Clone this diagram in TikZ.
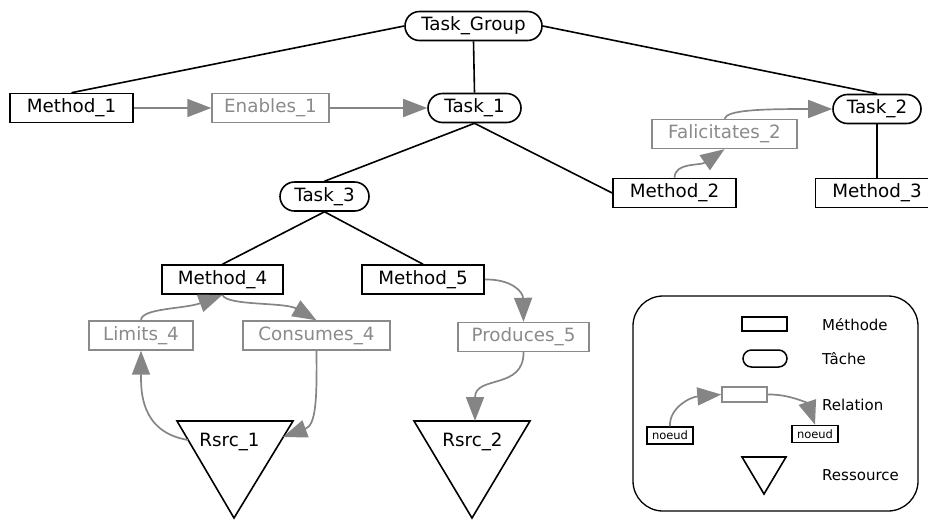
\documentclass[tikz,border=0pt]{standalone}
\usepackage{fontspec}
\setmainfont{DejaVu Sans}
\usetikzlibrary{arrows.meta,shapes.misc}
\definecolor{relgray}{HTML}{8A8A8A}
\definecolor{arrgray}{HTML}{858585}
\begin{document}
\begin{tikzpicture}[x=1pt,y=-1pt,
  bigfont/.style={font=\fontsize{18.3}{21}\selectfont},
  meth/.style={draw, line width=1.6pt, minimum width=123pt, minimum height=29pt, inner sep=0pt, bigfont},
  task/.style={draw, rounded rectangle, line width=1.6pt, minimum height=29pt, inner sep=0pt, bigfont},
  rel/.style={draw=relgray, text=relgray, line width=1.4pt, minimum height=29pt, inner sep=0pt, bigfont},
  link/.style={line width=1.6pt},
  rarrow/.style={draw=arrgray, line width=1.7pt, -{Triangle[length=24pt,width=18pt]}},
  tri/.style={line width=1.6pt, line join=miter},
  legtext/.style={anchor=west, inner sep=0pt, font=\fontsize{15}{18}\selectfont},
  smallbox/.style={draw, line width=1.5pt, minimum width=46pt, minimum height=17pt, inner sep=0pt, font=\fontsize{11.5}{13}\selectfont}
]
\useasboundingbox (0,0) rectangle (928,520);

% task nodes
\node[task, minimum width=137pt] (tg) at (473.5,26) {Task\_Group};
\node[task, minimum width=93pt] (t1) at (474.5,108) {Task\_1};
\node[task, minimum width=88pt] (t2) at (877,109) {Task\_2};
\node[task, minimum width=89pt] (t3) at (324.5,196.5) {Task\_3};

% method nodes
\node[meth] (m1) at (71.5,108) {Method\_1};
\node[meth] (m2) at (674.5,193) {Method\_2};
\node[meth] (m3) at (877,193) {Method\_3};
\node[meth, minimum width=121pt] (m4) at (222.5,279.5) {Method\_4};
\node[meth, minimum width=122pt] (m5) at (423,279.5) {Method\_5};

% relation nodes
\node[rel, minimum width=117pt] (e1) at (270.5,108) {Enables\_1};
\node[rel, minimum width=145pt] (f2) at (724.5,134) {Falicitates\_2};
\node[rel, minimum width=104pt] (l4) at (141,335.5) {Limits\_4};
\node[rel, minimum width=147pt] (c4) at (316.5,335.5) {Consumes\_4};
\node[rel, minimum width=131pt] (p5) at (523.5,337) {Produces\_5};

% resources
\coordinate (r1a) at (177,421);
\coordinate (r1b) at (293,421);
\coordinate (r1c) at (234,518);
\draw[tri] (r1a) -- (r1b) -- (r1c) -- cycle;
\node[bigfont, inner sep=0pt] (r1) at (229.5,442) {Rsrc\_1};
\coordinate (r2a) at (414,421);
\coordinate (r2b) at (530,421);
\coordinate (r2c) at (472,518);
\draw[tri] (r2a) -- (r2b) -- (r2c) -- cycle;
\node[bigfont, inner sep=0pt] (r2) at (472.5,442) {Rsrc\_2};
\coordinate (r1in) at (283,437);
\coordinate (r1out) at (188,440);
\coordinate (r2in) at (475,421);

% hierarchy links
\draw[link] (tg.west) -- (m1.north);
\draw[link] (tg.south) -- (t1.north);
\draw[link] (tg.east) -- (t2.north);
\draw[link] (t1.south) -- (t3.north);
\draw[link] (t1.south) -- (m2.west);
\draw[link] (t2.south) -- (m3.north);
\draw[link] (t3.south) -- (m4.north);
\draw[link] (t3.south) -- (m5.north);

% relation arrows
\draw[rarrow] (m1.east) -- (e1.west);
\draw[rarrow] (e1.east) -- (t1.west);
\draw[rarrow] (m2.north) .. controls (675,162) and (700,166) .. (f2.south);
\draw[rarrow] (f2.north) .. controls (727,110) and (760,109) .. (t2.west);
\draw[rarrow] (l4.north) .. controls (141,308) and (185,309) .. (m4.south);
\draw[rarrow] (m4.south) .. controls (226,306) and (285,302) .. (c4.north);
\draw[rarrow] (r1out) .. controls (140,432) and (141,390) .. (l4.south);
\draw[rarrow] (c4.south) .. controls (317,400) and (316,425) .. (r1in);
\draw[rarrow] (m5.east) .. controls (512,279) and (523,292) .. (p5.north);
\draw[rarrow] (p5.south) .. controls (524,390) and (475,375) .. (r2in);

% legend
\draw[line width=1.3pt, rounded corners=30pt] (633,296) rectangle (918,511);
\node[draw, line width=1.5pt, minimum width=45pt, minimum height=14pt, inner sep=0pt] (lm) at (764.5,324) {};
\node[draw, rounded rectangle, line width=1.5pt, minimum width=44pt, minimum height=17pt, inner sep=0pt] (lt) at (765,358.5) {};
\node[draw=relgray, line width=1.4pt, minimum width=45pt, minimum height=15pt, inner sep=0pt] (lr) at (744.5,394.5) {};
\node[smallbox] (n1) at (670,435.5) {noeud};
\node[smallbox] (n2) at (815,434) {noeud};
\draw[rarrow] (n1.north) .. controls (669,408) and (690,397) .. (lr.west);
\draw[rarrow] (lr.east) .. controls (790,394) and (808,404) .. (n2.north);
\coordinate (lta) at (742,457);
\coordinate (ltb) at (786,457);
\coordinate (ltc) at (764,494);
\draw[tri] (lta) -- (ltb) -- (ltc) -- cycle;
\node[legtext] (tm) at (822,325) {Méthode};
\node[legtext] (tt) at (822,359) {Tâche};
\node[legtext] (tr) at (822,405) {Relation};
\node[legtext] (ts) at (822,475) {Ressource};
\end{tikzpicture}
\end{document}
